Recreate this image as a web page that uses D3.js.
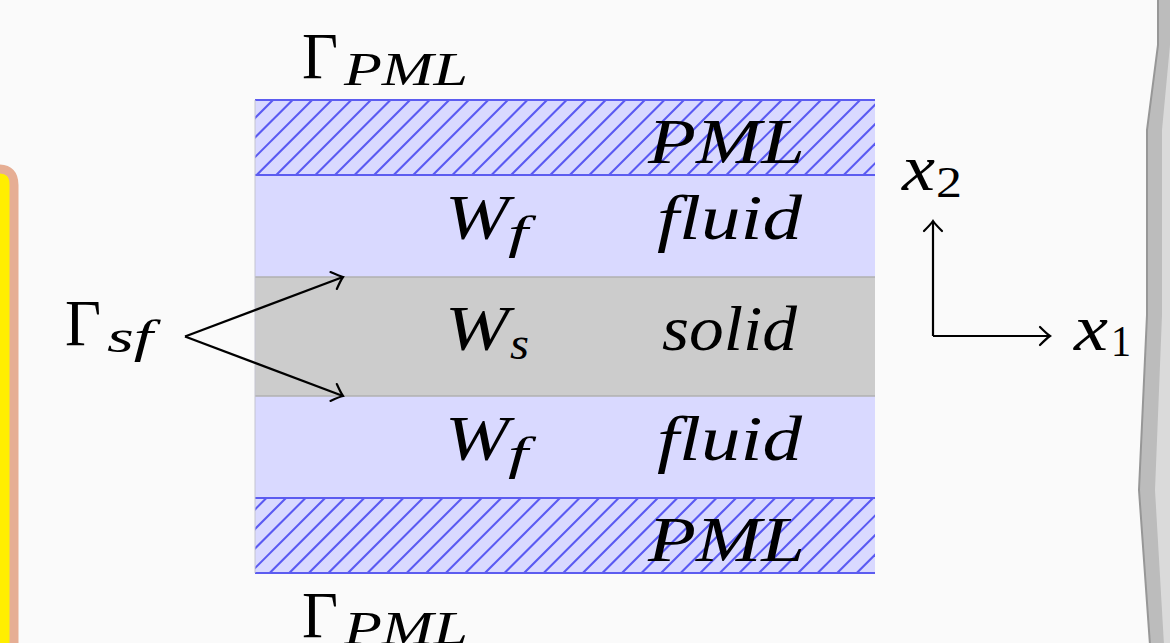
<!DOCTYPE html>
<html><head><meta charset="utf-8">
<script src="https://cdn.jsdelivr.net/npm/d3@7"></script>
<style>
html,body{margin:0;padding:0;background:#fafafa;}
svg{display:block;}
text{font-family:"Liberation Serif",serif;fill:#000;font-variant-ligatures:none;}
</style></head>
<body>
<script>
// ---- data ----
const layerNames = ["PML", "fluid", "solid", "fluid", "PML"];          // bottom -> top
const layerThickness = [0.75, 1.02, 1.19, 1.02, 0.75];                 // in x2 units
const layerKind = ["pml", "fluid", "solid", "fluid", "pml"];
const domainSymbols = [null, "f", "s", "f", null];                    // W subscripts
const boundaryLabels = ["PML", "sf", "PML"];
const axisLabels = ["1", "2"];

const W = 1170, H = 643;
const svg = d3.select("body").append("svg").attr("width", W).attr("height", H);
svg.append("rect").attr("width", W).attr("height", H).attr("fill", "#fafafa");

// decorative frame pieces
svg.append("path")
  .attr("d", "M -20,680 L -20,185 Q -20,169 -4,169 L -1,169 Q 14,169 14,185 L 14,680 Z")
  .attr("fill", "#ffee00").attr("stroke", "#e6ae94").attr("stroke-width", 9);
svg.append("path")
  .attr("d", "M 1158,-2 L 1158,45 L 1147,130 L 1147,315 L 1139,490 L 1150,645 L 1175,645 L 1175,-2 Z")
  .attr("fill", "#dadada");
svg.append("path")
  .attr("d", "M 1158,-2 L 1158,45 L 1147,130 L 1147,315 L 1139,490 L 1150,645 L 1164,645 L 1155,490 L 1162,315 L 1162,130 L 1170,45 L 1170,-2 Z")
  .attr("fill", "#bcbcbc");
svg.append("path")
  .attr("d", "M 1158,-2 L 1158,45 L 1147,130 L 1147,315 L 1139,490 L 1150,645")
  .attr("fill", "none").attr("stroke", "#979797").attr("stroke-width", 2);

// ---- scales ----
const total = d3.sum(layerThickness);
const y = d3.scaleLinear().domain([0, total]).range([573, 100]);
const x = d3.scaleLinear().domain([0, 6.2]).range([255, 875]);
const cum = d3.cumsum([0, ...layerThickness]);
const layers = layerNames.map((n, i) => ({name: n, kind: layerKind[i], y0: cum[i], y1: cum[i + 1], sub: domainSymbols[i]}));

const fillOf = {pml: "#d9d9ff", fluid: "#d9d9ff", solid: "#cccccc"};
const defs = svg.append("defs");

// open arrow marker (tikz "to" style)
defs.append("marker").attr("id", "arr").attr("viewBox", "-14 -11 16 22")
  .attr("refX", 0).attr("refY", 0).attr("markerWidth", 16).attr("markerHeight", 22)
  .attr("markerUnits", "userSpaceOnUse").attr("orient", "auto")
  .append("path").attr("d", "M -10,-9 Q -3,-2 0,0 Q -3,2 -10,9")
  .attr("fill", "none").attr("stroke", "#000").attr("stroke-width", 2.2).attr("stroke-linecap", "round");

const g = svg.append("g");
g.selectAll("rect.layer").data(layers).join("rect").attr("class", "layer")
  .attr("x", x(0)).attr("width", x(6.2) - x(0))
  .attr("y", d => y(d.y1)).attr("height", d => y(d.y0) - y(d.y1))
  .attr("fill", d => fillOf[d.kind]);

// hatching in PML layers
layers.filter(d => d.kind === "pml").forEach((d, k) => {
  const id = "clip" + k;
  defs.append("clipPath").attr("id", id).append("rect")
    .attr("x", x(0)).attr("width", x(6.2) - x(0))
    .attr("y", y(d.y1)).attr("height", y(d.y0) - y(d.y1));
  const step = 19.57, c0 = 373;
  const top = y(d.y1), bot = y(d.y0);
  const cs = d3.range(-80, 80).map(i => c0 + i * step)
    .filter(c => c - top > x(0) - 5 && c - bot < x(6.2) + 5);
  g.append("g").attr("clip-path", `url(#${id})`).selectAll("line").data(cs).join("line")
    .attr("x1", c => c - bot).attr("y1", bot).attr("x2", c => c - top).attr("y2", top)
    .attr("stroke", "#5a5af2").attr("stroke-width", 2.1);
});

// solid borders
[cum[2], cum[3]].forEach(v => g.append("line").attr("x1", x(0)).attr("x2", x(6.2))
  .attr("y1", y(v)).attr("y2", y(v)).attr("stroke", "#b0b0b0").attr("stroke-width", 1.5));
// PML borders
[cum[0], cum[1], cum[4], cum[5]].forEach(v => g.append("line").attr("x1", x(0)).attr("x2", x(6.2))
  .attr("y1", y(v)).attr("y2", y(v)).attr("stroke", "#5c5cf0").attr("stroke-width", 2.2));
g.append("line").attr("x1", x(0)).attr("x2", x(0)).attr("y1", y(total)).attr("y2", y(0))
  .attr("stroke", "#c4c4d0").attr("stroke-width", 1);

// ---- text helpers ----
function label(txt, px, base, size, width, italic = true) {
  const t = svg.append("text").attr("x", px).attr("y", base).attr("font-size", size)
    .attr("font-style", italic ? "italic" : "normal").text(txt);
  if (width) t.attr("textLength", width).attr("lengthAdjust", "spacingAndGlyphs");
  return t;
}

// Layer names
const nameX = {PML: 648, fluid: 657, solid: 662};
const nameW = {PML: 157, fluid: 145, solid: 135};
layers.forEach(d => {
  const mid = y((d.y0 + d.y1) / 2);
  const base = d.kind === "pml" ? mid + 25 : mid + 13;
  label(d.name, nameX[d.name], base, 64, nameW[d.name]);
  if (d.sub) {
    label("W", 445, mid + 13, 64, 64);
    label(d.sub, 508 + (d.sub === "s" ? 2 : 0), mid + 22, 46, d.sub === "s" ? 19 : 20);
  }
});

// Boundary labels
function gammaLabel(px, base, sub, subW) {
  label("Γ", px, base, 66, 36, false);
  label(sub, px + 42, base + 7, 46, subW);
}
gammaLabel(302, 78, boundaryLabels[0], 124);
gammaLabel(302, 637, boundaryLabels[2], 124);
gammaLabel(65, 345, boundaryLabels[1], 46);

// Γ_sf arrows
const tip = [185, y((cum[2] + cum[3]) / 2)];
[cum[3], cum[2]].forEach(v => {
  svg.append("line").attr("x1", tip[0]).attr("y1", tip[1])
    .attr("x2", 343).attr("y2", y(v))
    .attr("stroke", "#000").attr("stroke-width", 2.3).attr("marker-end", "url(#arr)");
});

// coordinate axes
const ox = 933, oy = 336;
svg.append("line").attr("x1", ox).attr("y1", oy).attr("x2", 1050).attr("y2", oy)
  .attr("stroke", "#000").attr("stroke-width", 2.2).attr("marker-end", "url(#arr)");
svg.append("line").attr("x1", ox).attr("y1", oy).attr("x2", ox).attr("y2", 221)
  .attr("stroke", "#000").attr("stroke-width", 2.2).attr("marker-end", "url(#arr)");
label("x", 902, 190, 66, 33);
label(axisLabels[1], 936, 197, 44, 26, false);
label("x", 1074, 350, 66, 34);
label(axisLabels[0], 1111, 356, 44, 20, false);
</script>
</body></html>
